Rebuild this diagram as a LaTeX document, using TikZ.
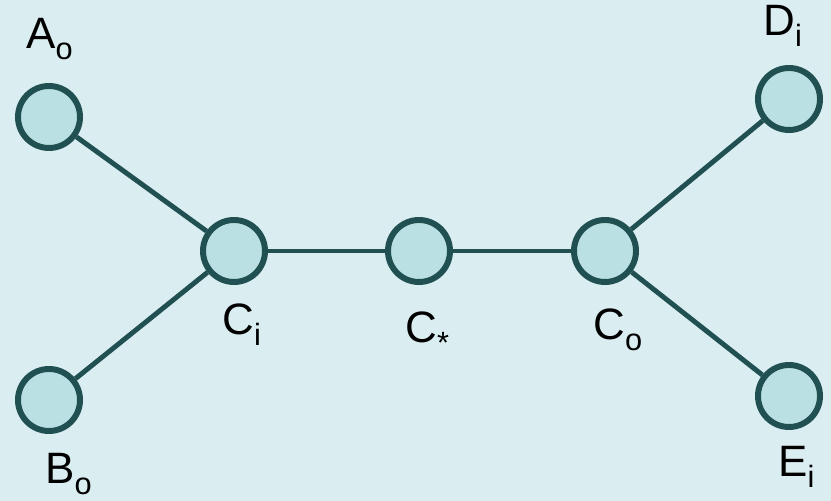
\documentclass[tikz,border=0pt]{standalone}
\usepackage{fontspec}
\setmainfont{Liberation Sans}
\usepackage{tikz}

\definecolor{bgblue}{HTML}{DAEDF0}
\definecolor{nodefill}{HTML}{BAE0E3}
\definecolor{edgedark}{HTML}{215052}

\newcommand{\nm}[2]{#1\raisebox{-6pt}{\fontsize{17.5}{17.5}\selectfont #2}}

\begin{document}
\begin{tikzpicture}
  [vertex/.style={circle,draw=edgedark,fill=nodefill,line width=3.4pt,minimum size=1.24cm,inner sep=0pt},
   tag/.style={anchor=base west,inner sep=0pt,font=\fontsize{25}{25}\selectfont},
   link/.style={draw=edgedark,line width=2.8pt}]
  \fill[bgblue] (0,0) rectangle (16.62,10.02);
  \useasboundingbox (0,0) rectangle (16.62,10.02);

  \node[vertex] (a)  at (0.98,7.68)  {};
  \node[vertex] (b)  at (0.98,2.02)  {};
  \node[vertex] (ci) at (4.68,5.0)   {};
  \node[vertex] (cs) at (8.38,5.0)   {};
  \node[vertex] (co) at (12.1,5.0)   {};
  \node[vertex] (d)  at (15.78,8.04) {};
  \node[vertex] (e)  at (15.78,2.1)  {};

  \node[tag] (la)  at (0.52,9.04)  {\nm{A}{o}};
  \node[tag] (lb)  at (0.9,0.34)   {\nm{B}{o}};
  \node[tag] (lci) at (4.44,3.32)  {\nm{C}{i}};
  \node[tag] (lcs) at (8.1,3.16)   {\nm{C}{*}};
  \node[tag] (lco) at (11.86,3.22) {\nm{C}{o}};
  \node[tag] (ld)  at (15.26,9.3)  {\nm{D}{i}};
  \node[tag] (le)  at (15.56,0.48) {\nm{E}{i}};

  \foreach \from/\to in {a/ci,b/ci,ci/cs,cs/co,co/d,co/e}
    \draw[link] (\from) -- (\to);

\end{tikzpicture}
\end{document}
